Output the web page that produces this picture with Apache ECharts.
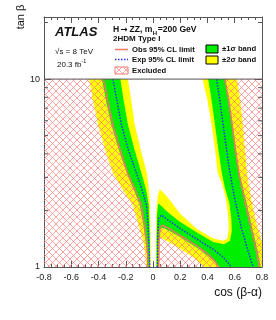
<!DOCTYPE html>
<html><head><meta charset="utf-8">
<script src="https://cdn.jsdelivr.net/npm/echarts@6/dist/echarts.min.js"></script>
<style>html,body{margin:0;padding:0;background:#fff}#c{width:276px;height:320px}</style>
</head><body><div id="c"></div>
<script>
// ---------- data (x = cos(beta-alpha), y = tan beta) ----------
const xTickLabels = ['-0.8','-0.6','-0.4','-0.2','0','0.2','0.4','0.6','0.8'];
const yTickLabels = {1:'1', 10:'10'};
const yMinorTicks = [2,3,4,5,6,7,8,9,20];

// left branch (top -> bottom)
const leftYellowOuter = [[-0.469,10],[-0.44,7.7],[-0.403,5.71],[-0.35,4.19],[-0.294,3.16],[-0.22,2.57],[-0.149,2.14],[-0.105,1.67],[-0.073,1.39],[-0.058,1.2],[-0.048,1]];
const leftYellowInner = [[-0.184,10],[-0.16,7.7],[-0.134,5.71],[-0.09,4.19],[-0.045,3.16],[-0.03,2.57],[-0.022,2.14],[-0.019,1.67],[-0.018,1.39],[-0.018,1]];
const leftGreenOuter  = [[-0.375,10],[-0.345,7.7],[-0.306,5.71],[-0.25,4.19],[-0.193,3.16],[-0.14,2.57],[-0.098,2.14],[-0.07,1.67],[-0.055,1.39],[-0.045,1.2],[-0.04,1]];
const leftGreenInner  = [[-0.240,10],[-0.215,7.7],[-0.184,5.71],[-0.135,4.19],[-0.085,3.16],[-0.05,2.57],[-0.031,2.14],[-0.026,1.67],[-0.024,1.39],[-0.022,1]];
const leftObs = [[-0.362,10],[-0.332,7.7],[-0.294,5.71],[-0.24,4.19],[-0.186,3.16],[-0.13,2.57],[-0.085,2.14],[-0.062,1.67],[-0.048,1.39],[-0.04,1.2],[-0.036,1]];
const leftExp = [[-0.294,10],[-0.265,7.7],[-0.232,5.71],[-0.18,4.19],[-0.122,3.16],[-0.08,2.57],[-0.048,2.14],[-0.036,1.67],[-0.031,1.39],[-0.027,1.2],[-0.024,1]];

// right part: tongue + right branch
const rightYellowInner = [[0.02,1],[0.02,1.5],[0.025,2.0],[0.035,2.4],[0.05,2.59],[0.085,2.45],[0.123,2.27],[0.197,1.93],[0.32,1.6],[0.442,1.42],[0.52,1.38],[0.545,1.42],[0.555,1.6],[0.552,1.85],[0.535,2.3],[0.506,2.8],[0.475,3.16],[0.456,4.19],[0.43,5.71],[0.40,7.7],[0.364,10]];
const rightYellowOuter = [[0.616,10],[0.64,7.7],[0.66,5.71],[0.675,4.19],[0.69,3.16],[0.72,2.3],[0.76,1.7],[0.80,1.35],[0.85,1.0]];
const tongueYellowOuter = [[0.38,1],[0.3,1.12],[0.2,1.25],[0.1,1.38],[0.048,1.45],[0.045,1]];
const rightGreenInner = [[0.027,1],[0.028,1.5],[0.03,1.9],[0.037,2.18],[0.06,2.12],[0.1,1.98],[0.197,1.74],[0.32,1.53],[0.442,1.36],[0.52,1.32],[0.565,1.38],[0.578,1.55],[0.575,1.8],[0.56,2.2],[0.53,2.6],[0.505,3.16],[0.48,4.19],[0.455,5.71],[0.43,7.7],[0.405,10]];
const rightGreenOuter = [[0.53,10],[0.56,7.7],[0.585,5.71],[0.61,4.19],[0.635,3.16],[0.68,2.3],[0.73,1.6],[0.77,1.2],[0.79,1]];
const tongueGreenOuter = [[0.49,1],[0.46,1.05],[0.4,1.15],[0.32,1.27],[0.2,1.44],[0.12,1.56],[0.07,1.62],[0.05,1.58],[0.043,1.4],[0.04,1]];
const tongueObs = [[0.042,1],[0.045,1.4],[0.052,1.62],[0.07,1.67],[0.12,1.6],[0.2,1.47],[0.32,1.3],[0.4,1.18],[0.46,1.06],[0.48,1]];
const tongueExp = [[0.032,1],[0.034,1.5],[0.042,1.82],[0.062,1.89],[0.1,1.8],[0.2,1.6],[0.32,1.41],[0.442,1.24],[0.52,1.12],[0.575,1]];
const rightObs = [[0.528,10],[0.555,7.7],[0.58,5.71],[0.605,4.19],[0.63,3.16],[0.67,2.3],[0.72,1.6],[0.76,1.2],[0.78,1]];
const rightExp = [[0.467,10],[0.49,7.7],[0.515,5.71],[0.54,4.19],[0.565,3.16],[0.6,2.3],[0.65,1.6],[0.7,1.2],[0.735,1]];
const xMin = -0.8, xMax = 0.8, yMin = 1, yMax = 21.4, yLegendLine = 10;

// ---------- build ----------
const rev = a => a.slice().reverse();
const yellowPolys = [
  leftYellowOuter.concat(rev(leftYellowInner)),
  rightYellowInner.concat(rightYellowOuter, tongueYellowOuter)
];
const greenPolys = [
  leftGreenOuter.concat(rev(leftGreenInner)),
  rightGreenInner.concat(rightGreenOuter, tongueGreenOuter)
];
const hatchPolys = [
  [[xMin,yMin],[xMin,yLegendLine]].concat(leftObs),
  tongueObs.slice(),
  rightObs.concat([[xMax,yMin],[xMax,yLegendLine]])
];
const obsLines = [leftObs, tongueObs, rightObs];
const expLines = [leftExp, tongueExp, rightExp];

function makeHatch(){
  const s = 7, c = document.createElement('canvas');
  c.width = s; c.height = s;
  const g = c.getContext('2d');
  g.strokeStyle = 'rgba(255,125,125,0.7)'; g.lineWidth = 1;
  g.beginPath();
  g.moveTo(-1,-1); g.lineTo(s+1,s+1);
  g.moveTo(s+1,-1); g.lineTo(-1,s+1);
  g.stroke();
  return c;
}
const hatch = {image: makeHatch(), repeat: 'repeat'};

const RED = '#ee7766', BLUE = '#2233ff', GREEN = '#00ee00', YELLOW = '#ffff00', AX = '#555';
const FONT = 'Liberation Sans, Arial, sans-serif';

function polySeries(polys, style, z){
  return {type:'custom', coordinateSystem:'cartesian2d', clip:true, silent:true, z:z,
    data: polys.map((p,i)=>[p[0][0], p[0][1], i]), encode:{x:0,y:1},
    renderItem:(params, api)=>({type:'polygon', shape:{points: polys[api.value(2)].map(q=>api.coord(q))}, style: Object.assign({}, style)})};
}
function lineSeries(lines, style, z){
  return {type:'custom', coordinateSystem:'cartesian2d', clip:true, silent:true, z:z,
    data: lines.map((p,i)=>[p[0][0], p[0][1], i]), encode:{x:0,y:1},
    renderItem:(params, api)=>({type:'polyline', shape:{points: lines[api.value(2)].map(q=>api.coord(q))}, style: Object.assign({fill:null}, style)})};
}
const ticksSeries = {type:'custom', coordinateSystem:'cartesian2d', silent:true, z:10,
  data: yMinorTicks.map(v=>[xMin, v]), encode:{x:0,y:1},
  renderItem:(params, api)=>{
    const a = api.coord([xMin, api.value(1)]), b = api.coord([xMax, api.value(1)]);
    return {type:'group', children:[
      {type:'line', shape:{x1:a[0], y1:a[1], x2:a[0]+4, y2:a[1]}, style:{stroke:AX, lineWidth:1}},
      {type:'line', shape:{x1:b[0], y1:b[1], x2:b[0]-4, y2:b[1]}, style:{stroke:AX, lineWidth:1}}
    ]};
  }};

const xAxisBase = {type:'value', min:xMin, max:xMax, interval:0.2,
  axisLine:{show:true, onZero:false, lineStyle:{color:AX, width:1}},
  axisTick:{show:true, inside:true, length:6, lineStyle:{color:AX}},
  minorTick:{show:true, splitNumber:4, length:3, lineStyle:{color:AX}},
  splitLine:{show:false}, minorSplitLine:{show:false}};
const yAxisBase = {type:'log', logBase:10, min:yMin, max:yMax,
  axisLine:{show:true, onZero:false, lineStyle:{color:AX, width:1}},
  axisTick:{show:true, inside:true, length:7, lineStyle:{color:AX}},
  splitLine:{show:false}};

const tx = (text, x, y, font, extra) => Object.assign({type:'text', x:x, y:y, z:100, silent:true,
  style:{text:text, font:font, fill:'#111', textAlign:'left', textVerticalAlign:'middle', verticalAlign:'middle'}}, extra||{});

const chart = echarts.init(document.getElementById('c'), null, {renderer:'canvas'});
chart.setOption({
  animation:false, backgroundColor:'#fff',
  grid:{left:44, right:14, top:17, bottom:53, containLabel:false},
  xAxis:[
    Object.assign({}, xAxisBase, {position:'bottom', axisLabel:{show:true, fontSize:9, color:'#222', fontFamily:FONT, margin:6,
      formatter:v=>xTickLabels[Math.round((v-xMin)/0.2)] ?? ''}}),
    Object.assign({}, xAxisBase, {position:'top', axisLabel:{show:false}})
  ],
  yAxis:[
    Object.assign({}, yAxisBase, {position:'left', axisLabel:{show:true, fontSize:9, color:'#222', fontFamily:FONT, margin:4,
      formatter:v=>yTickLabels[Math.round(v*1000)/1000] || ''}}),
    Object.assign({}, yAxisBase, {position:'right', axisLabel:{show:false}})
  ],
  series:[
    polySeries(yellowPolys, {fill:YELLOW}, 1),
    polySeries(greenPolys, {fill:GREEN}, 2),
    polySeries(hatchPolys, {fill:hatch}, 3),
    lineSeries(obsLines, {stroke:RED, lineWidth:1.5}, 4),
    lineSeries(expLines, {stroke:BLUE, lineWidth:1.5, lineDash:[1.5,1.5]}, 5),
    lineSeries([[[xMin,yLegendLine],[xMax,yLegendLine]]], {stroke:AX, lineWidth:1}, 6),
    ticksSeries
  ],
  graphic:[
    tx('tan β', 21, 17, '11px '+FONT, {rotation:Math.PI/2, style:{text:'tan β', font:'11px '+FONT, fill:'#111', textAlign:'center', textVerticalAlign:'middle', verticalAlign:'middle'}}),
    tx('cos (β-α)', 262, 293, '12px '+FONT, {style:{text:'cos (β-α)', font:'12px '+FONT, fill:'#111', textAlign:'right', textVerticalAlign:'middle', verticalAlign:'middle'}}),
    tx('ATLAS', 55, 32.5, 'italic bold 13px '+FONT),
    {type:'text', x:113, y:29.5, z:100, silent:true, style:{
      text:'{a|H}{r|→}{a|ZZ, m}{s|H}{a|=200 GeV}', textAlign:'left', verticalAlign:'middle', textVerticalAlign:'middle',
      rich:{
        a:{fontFamily:FONT, fontWeight:'bold', fontSize:8.6, lineHeight:14, fill:'#111', color:'#111'},
        r:{fontFamily:'DejaVu Sans', fontWeight:'bold', fontSize:8.6, lineHeight:14, fill:'#111', color:'#111', padding:[0,2,0,1]},
        s:{fontFamily:FONT, fontWeight:'bold', fontSize:6, verticalAlign:'bottom', fill:'#111', color:'#111', padding:[0,0.5,0,0.5]}
      }}},
    tx('2HDM Type I', 113, 39, 'bold 8px '+FONT),
    tx('√s = 8 TeV', 55, 52, '8px '+FONT),
    tx('20.3 fb', 57, 65, '8px '+FONT),
    tx('-1', 81.5, 61.5, '5.5px '+FONT),
    {type:'line', z:100, shape:{x1:115, y1:49.5, x2:128, y2:49.5}, style:{stroke:RED, lineWidth:1.5}},
    tx('Obs 95% CL limit', 132, 49.5, 'bold 7.7px '+FONT),
    {type:'line', z:100, shape:{x1:115, y1:59.5, x2:128, y2:59.5}, style:{stroke:BLUE, lineWidth:1.5, lineDash:[1.5,1.5]}},
    tx('Exp 95% CL limit', 132, 59.5, 'bold 7.7px '+FONT),
    {type:'rect', z:100, shape:{x:115, y:67, width:13, height:7}, style:{fill:hatch, stroke:RED, lineWidth:1}},
    tx('Excluded', 132, 70.5, 'bold 7.7px '+FONT),
    {type:'rect', z:100, shape:{x:206, y:45, width:12, height:8}, style:{fill:GREEN, stroke:'#000', lineWidth:1}},
    tx('±1σ band', 222, 49, 'bold 7.7px '+FONT),
    {type:'rect', z:100, shape:{x:206, y:56, width:12, height:8}, style:{fill:YELLOW, stroke:'#000', lineWidth:1}},
    tx('±2σ band', 222, 60, 'bold 7.7px '+FONT)
  ]
});
</script>
</body></html>
